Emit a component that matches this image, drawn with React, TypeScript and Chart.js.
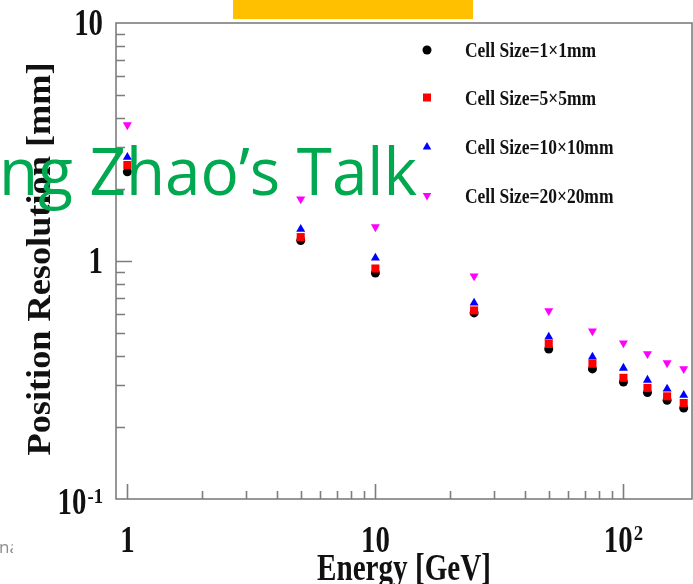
import React, { useEffect, useRef } from 'react';
import { Chart, registerables } from 'chart.js';

Chart.register(...registerables);

// ---------- data ----------
const energies = [1, 5, 10, 25, 50, 75, 100, 125, 150, 175];
const res1x1 = [2.37, 1.22, 0.89, 0.605, 0.427, 0.352, 0.31, 0.28, 0.26, 0.241];
const res5x5 = [2.53, 1.26, 0.93, 0.62, 0.448, 0.37, 0.323, 0.293, 0.27, 0.253];
const res10x10 = [2.73, 1.36, 1.03, 0.667, 0.48, 0.395, 0.355, 0.316, 0.29, 0.273];
const res20x20 = [3.73, 1.82, 1.39, 0.865, 0.617, 0.508, 0.452, 0.407, 0.373, 0.352];

const seriesLabels = ['Cell Size=1×1mm', 'Cell Size=5×5mm', 'Cell Size=10×10mm', 'Cell Size=20×20mm'];
const seriesColors = ['#000000', '#ff0000', '#0000ff', '#ff00ff'];
const seriesValues = [res1x1, res5x5, res10x10, res20x20];

const xTickValues = [1, 10, 100];
const xTickBase = ['1', '10', '10'];
const xTickExp = ['', '', '2'];
const yTickValues = [0.1, 1, 10];
const yTickBase = ['10', '1', '10'];
const yTickExp = ['-1', '', ''];

const xTitle = 'Energy [GeV]';
const yTitle = 'Position Resolution [mm]';
const overlayText = 'ng Zhao\u2019s Talk';

// ---------- styling ----------
const SERIF = '"Liberation Serif", "Times New Roman", serif';
const AXIS_COLOR = '#7d7d7d';
const TEXT_COLOR = '#111111';

type Shape = 'circle' | 'rect' | 'up' | 'down';
const shapes: Shape[] = ['circle', 'rect', 'up', 'down'];

function drawScaled(
  ctx: CanvasRenderingContext2D,
  text: string,
  x: number,
  y: number,
  size: number,
  sx: number,
  align: 'left' | 'right' | 'center',
  font = SERIF,
  weight = 'bold'
) {
  ctx.font = `${weight} ${size}px ${font}`;
  const w = ctx.measureText(text).width * sx;
  const x0 = align === 'left' ? x : align === 'right' ? x - w : x - w / 2;
  ctx.save();
  ctx.translate(x0, y);
  ctx.scale(sx, 1);
  ctx.textAlign = 'left';
  ctx.textBaseline = 'alphabetic';
  ctx.fillText(text, 0, 0);
  ctx.restore();
  return w;
}

function measure(ctx: CanvasRenderingContext2D, text: string, size: number, sx: number, font = SERIF, weight = 'bold') {
  ctx.font = `${weight} ${size}px ${font}`;
  return ctx.measureText(text).width * sx;
}

function drawMarker(ctx: CanvasRenderingContext2D, shape: Shape, x: number, y: number, color: string) {
  ctx.save();
  ctx.fillStyle = color;
  ctx.beginPath();
  if (shape === 'circle') {
    ctx.arc(x, y, 4.5, 0, Math.PI * 2);
  } else if (shape === 'rect') {
    ctx.rect(x - 4, y - 4, 8, 8);
  } else if (shape === 'up') {
    ctx.moveTo(x, y - 5);
    ctx.lineTo(x + 4.3, y + 2.5);
    ctx.lineTo(x - 4.3, y + 2.5);
    ctx.closePath();
  } else {
    ctx.moveTo(x, y + 5);
    ctx.lineTo(x + 4.3, y - 2.5);
    ctx.lineTo(x - 4.3, y - 2.5);
    ctx.closePath();
  }
  ctx.fill();
  ctx.restore();
}

const framePlugin = {
  id: 'frame',
  beforeDatasetsDraw(chart: any) {
    const ctx: CanvasRenderingContext2D = chart.ctx;
    const { left, right, top, bottom } = chart.chartArea;
    const xs = chart.scales.x;
    const ys = chart.scales.y;
    ctx.save();
    ctx.strokeStyle = AXIS_COLOR;
    ctx.lineWidth = 1.6;
    ctx.strokeRect(left, top, right - left, bottom - top);
    ctx.beginPath();
    // y ticks (inward)
    for (const base of [0.1, 1]) {
      for (let k = 1; k <= 9; k++) {
        const v = base * k;
        if (v <= ys.min || v >= ys.max) continue;
        const py = Math.round(ys.getPixelForValue(v)) + 0.5;
        const len = k === 1 ? 16 : 9;
        ctx.moveTo(left, py);
        ctx.lineTo(left + len, py);
      }
    }
    // x ticks (inward)
    for (const base of [1, 10, 100]) {
      for (let k = 1; k <= 9; k++) {
        const v = base * k;
        if (v <= xs.min || v >= xs.max) continue;
        const px = Math.round(xs.getPixelForValue(v)) + 0.5;
        const len = k === 1 ? 15 : 8;
        ctx.moveTo(px, bottom);
        ctx.lineTo(px, bottom - len);
      }
    }
    ctx.stroke();
    ctx.restore();
  },
  afterDraw(chart: any) {
    const ctx: CanvasRenderingContext2D = chart.ctx;
    const { left, right, top, bottom } = chart.chartArea;
    const xs = chart.scales.x;
    const ys = chart.scales.y;
    ctx.save();
    ctx.fillStyle = TEXT_COLOR;
    const TS = 37;
    const TSX = 0.78;
    const ES = 22;
    // y tick labels
    yTickValues.forEach((v, i) => {
      const py = ys.getPixelForValue(v);
      const base = yTickBase[i];
      const exp = yTickExp[i];
      const wb = measure(ctx, base, TS, TSX);
      const we = exp ? measure(ctx, exp, ES, 0.85) + 1 : 0;
      const x0 = 103 - wb - we;
      const by = py + 12 + (v === 0.1 ? 3 : 0);
      drawScaled(ctx, base, x0, by, TS, TSX, 'left');
      if (exp) drawScaled(ctx, exp, x0 + wb + 1, by - 11, ES, 0.85, 'left');
    });
    // x tick labels
    xTickValues.forEach((v, i) => {
      const px = xs.getPixelForValue(v);
      const base = xTickBase[i];
      const exp = xTickExp[i];
      const wb = measure(ctx, base, TS, TSX);
      const we = exp ? measure(ctx, exp, ES, 0.85) + 1 : 0;
      const x0 = px - (wb + we) / 2;
      const by = 552;
      drawScaled(ctx, base, x0, by, TS, TSX, 'left');
      if (exp) drawScaled(ctx, exp, x0 + wb + 1, by - 12, ES, 0.85, 'left');
    });
    // x title
    {
      const w0 = measure(ctx, xTitle, 37, 1);
      drawScaled(ctx, xTitle, (left + right) / 2, 580, 37, 174 / w0, 'center');
    }
    // y title
    {
      const size = 34;
      const w0 = measure(ctx, yTitle, size, 1);
      const s = 393 / w0;
      ctx.save();
      ctx.translate(50, (top + bottom) / 2 - 2);
      ctx.rotate(-Math.PI / 2);
      drawScaled(ctx, yTitle, 0, 0, size, s, 'center');
      ctx.restore();
    }
    // legend
    const rowsY = [50, 97.5, 147, 195.5];
    const w1 = measure(ctx, seriesLabels[0], 21, 1);
    const lsx = 131 / w1;
    seriesLabels.forEach((lab, i) => {
      drawMarker(ctx, shapes[i], 427, rowsY[i], seriesColors[i]);
      ctx.fillStyle = TEXT_COLOR;
      drawScaled(ctx, lab, 465, rowsY[i] + 7, 21, lsx, 'left');
    });

    // slide overlays
    ctx.fillStyle = '#ffc000';
    ctx.fillRect(233, 0, 240, 19);

    ctx.fillStyle = '#00a84f';
    {
      const fs = 66;
      const w0 = measure(ctx, overlayText, fs, 1, '"Open Sans", sans-serif', 'normal');
      drawScaled(ctx, overlayText, -1, 195, fs, 418 / w0, 'left', '"Open Sans", sans-serif', 'normal');
    }

    ctx.save();
    ctx.beginPath();
    ctx.rect(0, 530, 13, 40);
    ctx.clip();
    ctx.fillStyle = '#8c8c8c';
    drawScaled(ctx, 'na', -1, 553, 17, 1, 'left', '"Open Sans", sans-serif', 'normal');
    ctx.restore();

    ctx.restore();
  },
};

export default function App() {
  const ref = useRef<HTMLCanvasElement>(null);
  useEffect(() => {
    if (!ref.current) return;
    const pointStyles = ['circle', 'rect', 'triangle', 'triangle'];
    const radii = [4.5, 5.7, 5.2, 5.2];
    const rotations = [0, 0, 0, 180];
    const datasets = seriesLabels.map((label, i) => ({
      label,
      data: energies.map((e, j) => ({ x: e, y: seriesValues[i][j] })),
      backgroundColor: seriesColors[i],
      borderColor: seriesColors[i],
      pointStyle: pointStyles[i],
      pointRadius: radii[i],
      pointRotation: rotations[i],
      pointBorderWidth: 0,
      showLine: false,
      clip: false,
      order: 4 - i,
    }));
    const chart = new Chart(ref.current, {
      type: 'scatter',
      data: { datasets },
      plugins: [framePlugin],
      options: {
        animation: false,
        responsive: false,
        devicePixelRatio: 1,
        layout: { autoPadding: false, padding: { left: 116, right: 1, top: 23, bottom: 85 } },
        plugins: { legend: { display: false }, tooltip: { enabled: false } },
        scales: {
          x: { type: 'logarithmic', min: 0.9, max: 189, display: false },
          y: { type: 'logarithmic', min: 0.1, max: 10, display: false },
        },
      },
    } as any);
    return () => chart.destroy();
  }, []);
  return (
    <div style={{ position: 'fixed', left: 0, top: 0, width: 693, height: 584, background: '#ffffff' }}>
      <canvas ref={ref} width={693} height={584} style={{ display: 'block', width: 693, height: 584 }} />
    </div>
  );
}
